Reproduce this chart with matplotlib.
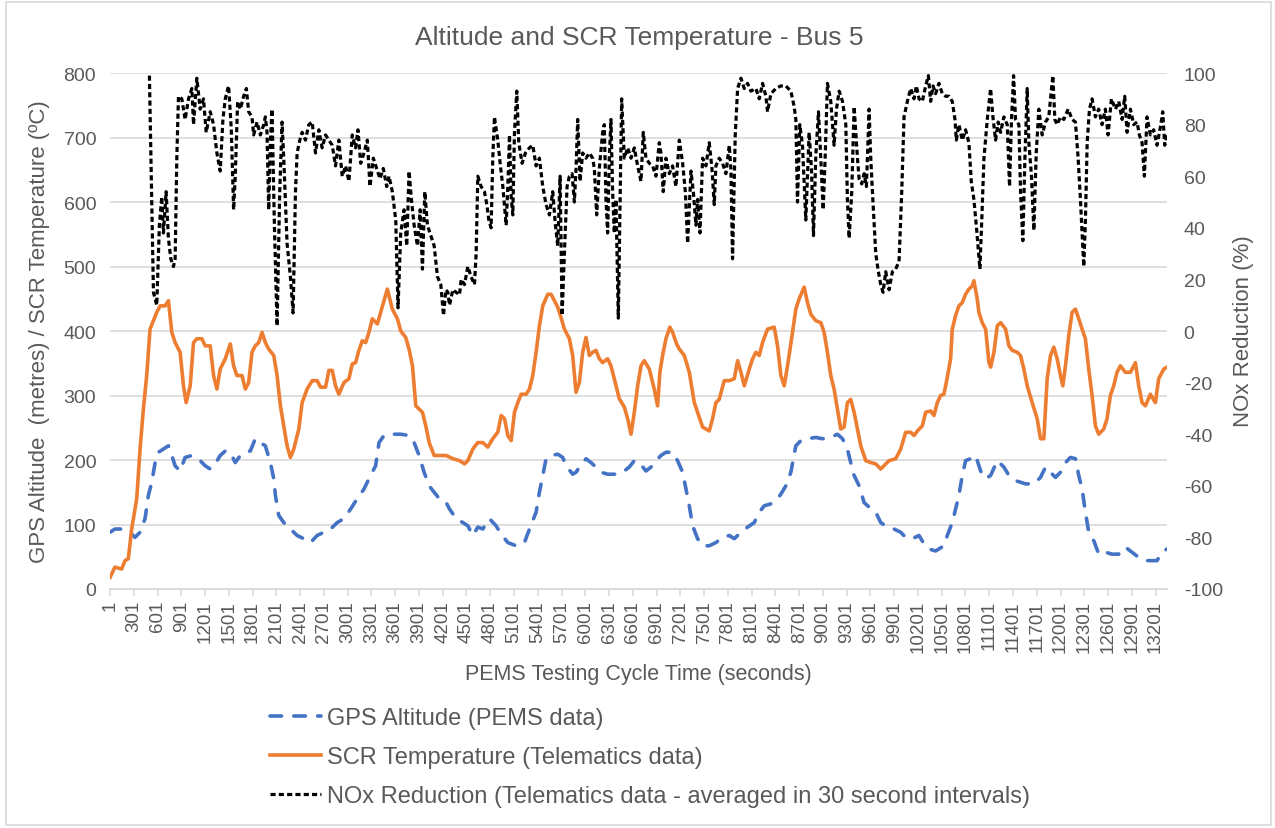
#!/usr/bin/env python3
# Altitude, SCR temperature and NOx reduction - Bus 5

import numpy as np
import matplotlib.pyplot as plt
from matplotlib.patches import Rectangle

plt.close('all')

plt.rcParams['font.family'] = ['Liberation Sans', 'DejaVu Sans']
plt.rcParams['axes.unicode_minus'] = False

# time (s) and SCR temperature (C), telematics
temp_t = [1, 63, 148, 190, 232, 274, 338, 380, 422, 464, 506, 549, 591, 633, 696, 738, 781, 823, 886, 928,
          962, 1013, 1055, 1097, 1160, 1203, 1266, 1308, 1350, 1392, 1456, 1519, 1561, 1603, 1667, 1709, 1751, 1793, 1835, 1878,
          1920, 1962, 2004, 2068, 2110, 2152, 2194, 2236, 2278, 2321, 2384, 2426, 2489, 2553, 2616, 2658, 2722, 2764, 2806, 2848,
          2890, 2954, 3017, 3059, 3101, 3143, 3186, 3228, 3270, 3312, 3376, 3418, 3460, 3502, 3565, 3629, 3671, 3734, 3776, 3819,
          3861, 3903, 3945, 3987, 4030, 4093,
          4161, 4245, 4329, 4413, 4476, 4518, 4581, 4644, 4707, 4770, 4833, 4896, 4939, 4981, 5023, 5065, 5107, 5149, 5191, 5254,
          5296, 5338, 5380, 5422, 5464, 5527, 5569, 5611, 5653, 5695, 5737, 5800, 5842, 5884, 5926, 5968, 6010, 6052, 6094, 6136,
          6178, 6220, 6283, 6325, 6367, 6430, 6494, 6536, 6578, 6620, 6662, 6704, 6746, 6809, 6872, 6914, 6943, 6977, 7019, 7069,
          7103, 7154,
          7188, 7251, 7314, 7377, 7419, 7482, 7566, 7608, 7650, 7692, 7755, 7819, 7882, 7924, 7966, 8008, 8071, 8113, 8155, 8197,
          8239, 8302, 8386, 8428, 8470, 8512, 8554, 8617, 8659, 8701, 8764, 8806, 8848, 8911, 8974, 9016, 9058, 9100, 9142, 9184,
          9226, 9268, 9310, 9352, 9395, 9437, 9479, 9542, 9605, 9668, 9731, 9794, 9836, 9920, 9983, 10046, 10109, 10151, 10193,
          10256, 10298, 10361, 10403, 10445, 10487, 10529, 10571, 10613, 10634, 10676, 10718, 10760, 10802, 10844, 10886, 10907, 10949, 10970, 11012,
          11055, 11097, 11118, 11160, 11202, 11244, 11307, 11349, 11391, 11454, 11496, 11538, 11580, 11643, 11706, 11748, 11790, 11832, 11874, 11916,
          11958, 12000, 12030, 12063, 12105, 12147, 12189, 12231, 12273, 12315, 12357, 12399, 12441, 12483, 12546, 12588, 12630, 12672, 12714, 12756,
          12819, 12883, 12946, 12988, 13030, 13072, 13135, 13198, 13240, 13303, 13345]
temp_c = [18, 34, 31, 44, 47, 93, 140, 217, 279, 331, 403, 416, 429, 439, 439, 447, 398, 382, 367, 315,
          289, 315, 382, 388, 388, 377, 377, 331, 310, 341, 357, 380, 346, 331, 331, 310, 320, 367, 377, 382,
          398, 382, 372, 362, 331, 284, 253, 222, 204, 217, 248, 289, 310, 323, 323, 313, 313, 339, 339, 315,
          302, 320, 326, 349, 351, 370, 385, 382, 398, 419, 411, 429, 447, 465, 434, 419, 400, 390, 372, 346,
          284, 279, 274, 253, 227, 207,
          207, 207, 202, 199, 194, 199, 217, 227, 227, 220, 233, 243, 269, 264, 238, 230, 274, 289, 302, 302,
          310, 331, 367, 408, 439, 457, 457, 447, 437, 421, 403, 388, 362, 305, 320, 367, 390, 362, 367, 370,
          357, 351, 357, 346, 326, 295, 282, 264, 240, 274, 315, 346, 354, 341, 310, 284, 336, 362, 388, 406,
          398, 380,
          372, 362, 336, 289, 274, 251, 245, 264, 289, 294, 323, 323, 326, 354, 336, 315, 341, 357, 367, 362,
          382, 403, 406, 377, 331, 315, 346, 398, 434, 450, 468, 444, 426, 416, 413, 398, 367, 331, 310, 279,
          248, 251, 289, 294, 274, 248, 222, 199, 196, 194, 186, 194, 199, 202, 217, 243, 243, 238, 245,
          253, 274, 276, 269, 289, 300, 302, 328, 357, 403, 424, 439, 444, 457, 465, 470, 478, 450, 429, 413,
          403, 351, 344, 367, 408, 413, 403, 377, 370, 367, 362, 341, 315, 289, 264, 233, 233, 326, 362, 375,
          357, 331, 315, 346, 393, 429, 434, 419, 403, 388, 341, 300, 253, 240, 248, 264, 300, 315, 336, 346,
          336, 336, 351, 315, 289, 284, 302, 289, 326, 341, 344]

# time (s) and GPS altitude (m), PEMS
alt_t = [1, 63, 148, 253, 316, 380, 443, 485, 527, 570, 612, 675, 738, 781, 823, 886, 949, 1034, 1097, 1139,
         1203, 1266, 1329, 1392, 1456, 1519, 1582, 1646, 1709, 1772, 1835, 1899, 1962, 2025, 2068, 2089, 2131, 2194, 2278, 2363,
         2447, 2532, 2616, 2700, 2785, 2869, 2954, 3038, 3122, 3207, 3291, 3354, 3397, 3460, 3544, 3671, 3776, 3840, 3903, 3966,
         4030, 4093, 4177,
         4245, 4287, 4371, 4455, 4518, 4581, 4644, 4707, 4791, 4875, 4939, 5023, 5128, 5233, 5296, 5380, 5422, 5464, 5506, 5569,
         5653, 5716, 5758, 5842, 5884, 5926, 6010, 6073, 6136, 6199, 6283, 6388, 6472, 6556, 6620, 6683, 6767, 6830, 6893, 6956,
         7019, 7103, 7166,
         7230, 7272, 7314, 7356, 7419, 7482, 7566, 7650, 7734, 7819, 7882, 7966, 8050, 8134, 8197, 8260, 8344, 8407, 8470, 8533,
         8596, 8659, 8722, 8806, 8911, 8995, 9100, 9184, 9248, 9310, 9352, 9395, 9458, 9521, 9584, 9668, 9731, 9815, 9899, 9983,
         10046, 10130,
         10214, 10277, 10340, 10424, 10529, 10571, 10634, 10676, 10718, 10760, 10802, 10865, 10929, 10992, 11055, 11118, 11202, 11286, 11349, 11433,
         11559, 11664, 11748, 11811, 11874, 11937, 12000, 12063, 12126, 12189, 12231, 12273, 12315, 12357, 12420, 12483, 12567, 12651, 12735, 12819,
         12903, 12987, 13072, 13156, 13219, 13282, 13345]
alt_m = [88, 93, 93, 88, 80, 88, 109, 145, 165, 196, 212, 217, 222, 207, 191, 183, 204, 207, 202, 199,
         191, 186, 194, 207, 214, 212, 196, 207, 212, 214, 233, 227, 222, 196, 171, 145, 114, 103, 93, 83,
         78, 72, 83, 88, 93, 103, 109, 124, 140, 155, 176, 191, 227, 238, 240, 240, 238, 227, 207, 181,
         160, 150, 137,
         134, 124, 109, 103, 98, 83, 96, 93, 109, 98, 85, 72, 67, 72, 93, 119, 150, 176, 202, 207,
         209, 204, 191, 178, 181, 189, 202, 196, 189, 181, 178, 178, 181, 189, 199, 196, 183, 189, 199, 207,
         212, 212, 199,
         181, 155, 129, 98, 78, 67, 67, 72, 80, 83, 78, 88, 96, 103, 119, 129, 132, 137, 147, 160,
         181, 222, 230, 233, 235, 233, 235, 240, 233, 217, 196, 176, 160, 134, 127, 119, 103, 96, 93, 88,
         80, 78,
         83, 70, 62, 59, 67, 83, 103, 124, 145, 176, 199, 202, 207, 183, 171, 176, 199, 189, 176, 168,
         163, 163, 173, 189, 181, 173, 181, 196, 204, 202, 176, 155, 119, 88, 75, 54, 57, 54, 54, 65,
         57, 49, 44, 44, 44, 57, 62]

# time (s) and NOx reduction (%), 30 s averages
nox_t = [498, 549, 591, 624, 654, 675, 709, 738, 768, 802, 823, 844, 865, 907, 949, 992, 1034, 1055, 1097, 1139,
         1181, 1215, 1266, 1308, 1350, 1392, 1426, 1456, 1498, 1532, 1561, 1582, 1612, 1646, 1688, 1722, 1751, 1793, 1814, 1857,
         1899, 1941, 1962, 1983, 2004, 2025, 2046, 2076, 2110, 2143, 2173, 2194, 2236, 2278, 2312, 2342, 2363, 2397, 2426, 2468,
         2511, 2553, 2595, 2637, 2679, 2722, 2764, 2806, 2848, 2890, 2932, 2975, 3017, 3059, 3101, 3131, 3165, 3207, 3249, 3283,
         3325, 3367, 3409, 3451, 3494, 3523, 3565, 3608, 3637, 3671, 3713, 3747, 3776, 3806, 3840, 3882, 3916, 3945, 3975, 4008,
         4051, 4093, 4135, 4177, 4211, 4241,
         4266, 4287, 4329, 4371, 4413, 4434, 4476, 4518, 4560, 4602, 4623, 4644, 4686, 4728, 4758, 4783, 4812, 4833, 4854, 4896,
         4926, 4960, 5002, 5023, 5044, 5065, 5086, 5107, 5136, 5161, 5203, 5245, 5296, 5338, 5380, 5422, 5464, 5506, 5548, 5590,
         5624, 5653, 5683, 5708, 5737, 5771, 5800, 5834, 5863, 5884, 5905, 5935, 5968, 6010, 6052, 6094, 6115, 6145, 6178, 6220,
         6241, 6262, 6283, 6304, 6325, 6346, 6367, 6388, 6418, 6443, 6460, 6494, 6536, 6578, 6620, 6662, 6704, 6733, 6767, 6809,
         6851, 6893, 6935, 6956, 6985, 7019, 7061, 7103, 7145,
         7188, 7230, 7264, 7293, 7335, 7365, 7398, 7419, 7449, 7482, 7524, 7566, 7600, 7629, 7650, 7692, 7734, 7776, 7819, 7839,
         7860, 7894, 7924, 7966, 8008, 8050, 8092, 8155, 8197, 8239, 8281, 8302, 8344, 8407, 8470, 8533, 8596, 8638, 8659, 8680,
         8709, 8743, 8785, 8827, 8856, 8882, 8911, 8945, 8974, 9004, 9029, 9058, 9100, 9142, 9172, 9206, 9248, 9290, 9310, 9332,
         9365, 9395, 9437, 9458, 9491, 9521, 9550, 9584, 9605, 9626, 9668, 9701, 9731, 9760, 9794, 9836, 9878, 9920, 9962, 9996,
         10025, 10067, 10109, 10151, 10181,
         10214, 10256, 10298, 10332, 10361, 10391, 10424, 10466, 10508, 10550, 10592, 10634, 10668, 10685, 10718, 10760, 10802, 10844, 10874, 10907,
         10937, 10962, 10983, 11004, 11034, 11076, 11118, 11147, 11181, 11214, 11244, 11286, 11328, 11357, 11382, 11408, 11433, 11475, 11496, 11525,
         11551, 11580, 11601, 11634, 11664, 11694, 11727, 11769, 11811, 11853, 11874, 11904, 11929, 11958, 12000, 12042, 12097, 12147, 12189, 12223,
         12252, 12273, 12294, 12315, 12337, 12366, 12399, 12441, 12483, 12525, 12567, 12601, 12643, 12694, 12736, 12778, 12811, 12841, 12883, 12925,
         12967, 12996, 13030, 13059, 13093, 13135, 13177, 13219, 13261, 13291, 13316, 13341]
nox_pct = [99, 15, 10, 41, 52, 38, 54, 36, 28, 25, 28, 67, 91, 90, 82, 90, 94, 80, 98, 86,
           90, 77, 85, 80, 69, 62, 82, 90, 95, 78, 47, 60, 89, 86, 91, 94, 85, 83, 76, 81,
           76, 80, 83, 77, 47, 73, 86, 41, 2, 54, 81, 67, 34, 21, 7, 54, 69, 74, 77, 74,
           80, 81, 69, 78, 71, 76, 74, 72, 64, 74, 60, 64, 58, 76, 71, 78, 65, 69, 74, 56,
           67, 63, 59, 63, 56, 60, 54, 43, 9, 38, 47, 33, 62, 51, 41, 33, 47, 24, 54, 41,
           37, 33, 21, 18, 6, 16,
           15, 10, 16, 15, 14, 20, 18, 25, 21, 18, 30, 60, 56, 54, 49, 43, 40, 67, 83, 74,
           65, 56, 41, 56, 76, 52, 45, 77, 93, 73, 65, 69, 71, 72, 64, 67, 56, 49, 45, 54,
           41, 33, 60, 6, 30, 56, 60, 61, 50, 63, 82, 58, 69, 67, 69, 67, 63, 45, 63, 77,
           80, 51, 38, 67, 82, 54, 38, 51, 5, 56, 90, 67, 71, 67, 71, 64, 58, 77, 67, 65,
           64, 60, 73, 69, 54, 67, 61, 64, 56,
           74, 65, 54, 34, 62, 54, 41, 51, 38, 67, 64, 73, 63, 49, 64, 67, 65, 61, 72, 63,
           28, 76, 94, 98, 94, 96, 93, 94, 90, 96, 91, 85, 92, 94, 95, 95, 93, 87, 82, 50,
           80, 72, 43, 77, 63, 37, 68, 85, 67, 47, 67, 96, 89, 72, 86, 93, 89, 80, 51, 36,
           54, 87, 67, 59, 57, 61, 56, 86, 67, 54, 30, 23, 18, 15, 23, 16, 23, 24, 27, 54,
           83, 89, 94, 90, 95,
           90, 89, 95, 99, 89, 95, 92, 96, 92, 91, 91, 89, 82, 74, 80, 74, 78, 73, 58, 51,
           41, 32, 24, 41, 67, 82, 94, 83, 74, 81, 77, 83, 80, 56, 82, 99, 82, 80, 54, 35,
           67, 94, 73, 60, 39, 69, 86, 76, 81, 83, 90, 99, 82, 80, 83, 82, 86, 82, 81, 67,
           51, 38, 25, 43, 73, 86, 90, 83, 86, 80, 86, 76, 90, 86, 89, 82, 91, 77, 86, 80,
           81, 76, 73, 60, 83, 76, 78, 72, 79, 85, 72, 76]

x_ticks = list(range(1, 13202, 300))
t_end = 13345

grey = '#595959'
grid_grey = '#D9D9D9'

fig = plt.figure(figsize=(12.75, 8.29), dpi=100)
ax1 = fig.add_axes([0.0863, 0.2883, 0.8290, 0.6224])
ax2 = ax1.twinx()

l_alt, = ax1.plot(alt_t, alt_m, color='#4472C4', lw=2.6, ls=(0, (3.2, 3.4)),
                  dash_capstyle='round', label='GPS Altitude (PEMS data)')
l_tmp, = ax1.plot(temp_t, temp_c, color='#ED7D31', lw=2.6, solid_joinstyle='round',
                  label='SCR Temperature (Telematics data)')
l_nox, = ax2.plot(nox_t, nox_pct, color='black', lw=2.3, ls=(0, (1.6, 1.0)),
                  label='NOx Reduction (Telematics data - averaged in 30 second intervals)')

ax1.set_xlim(1, t_end)
ax1.set_ylim(0, 800)
ax1.set_yticks(np.arange(0, 801, 100))
ax1.set_xticks(x_ticks)
ax1.set_xticklabels([str(v) for v in x_ticks], rotation=90)
ax1.grid(axis='y', color=grid_grey, lw=1.2)
ax1.set_axisbelow(True)

ax2.set_ylim(-100, 100)
ax2.set_yticks(np.arange(-100, 101, 20))

for ax in (ax1, ax2):
    for s in ('top', 'left', 'right'):
        ax.spines[s].set_visible(False)
    ax.spines['bottom'].set_color(grid_grey)
    ax.spines['bottom'].set_linewidth(1.2)
    ax.tick_params(axis='y', length=0, labelsize=14, labelcolor=grey, pad=10)
ax1.tick_params(axis='x', length=5, width=1.2, color=grid_grey, labelsize=13.5,
                labelcolor=grey, pad=3)
ax2.tick_params(axis='y', pad=12)

fig.text(0.501, 0.954, 'Altitude and SCR Temperature - Bus 5', ha='center', va='center',
         fontsize=19, color=grey)
fig.text(0.501, 0.186, 'PEMS Testing Cycle Time (seconds)', ha='center', va='center',
         fontsize=15.5, color=grey)
fig.text(0.031, 0.60, 'GPS Altitude  (metres) / SCR Temperature (ºC)', ha='center', va='center',
         rotation=90, fontsize=16, color=grey)
fig.text(0.975, 0.60, 'NOx Reduction (%)', ha='center', va='center',
         rotation=90, fontsize=16, color=grey)

leg = fig.legend(handles=[l_alt, l_tmp, l_nox], loc='upper left', bbox_to_anchor=(0.212, 0.146),
                 frameon=False, fontsize=17, handlelength=2.15, handletextpad=0.25,
                 labelspacing=0.72, borderpad=0, borderaxespad=0)
for txt in leg.get_texts():
    txt.set_color(grey)

fig.patches.append(Rectangle((0.005, 0.004), 0.992, 0.992, transform=fig.transFigure,
                             fill=False, edgecolor=grid_grey, lw=1.2))

plt.savefig('out.png', dpi=100)
